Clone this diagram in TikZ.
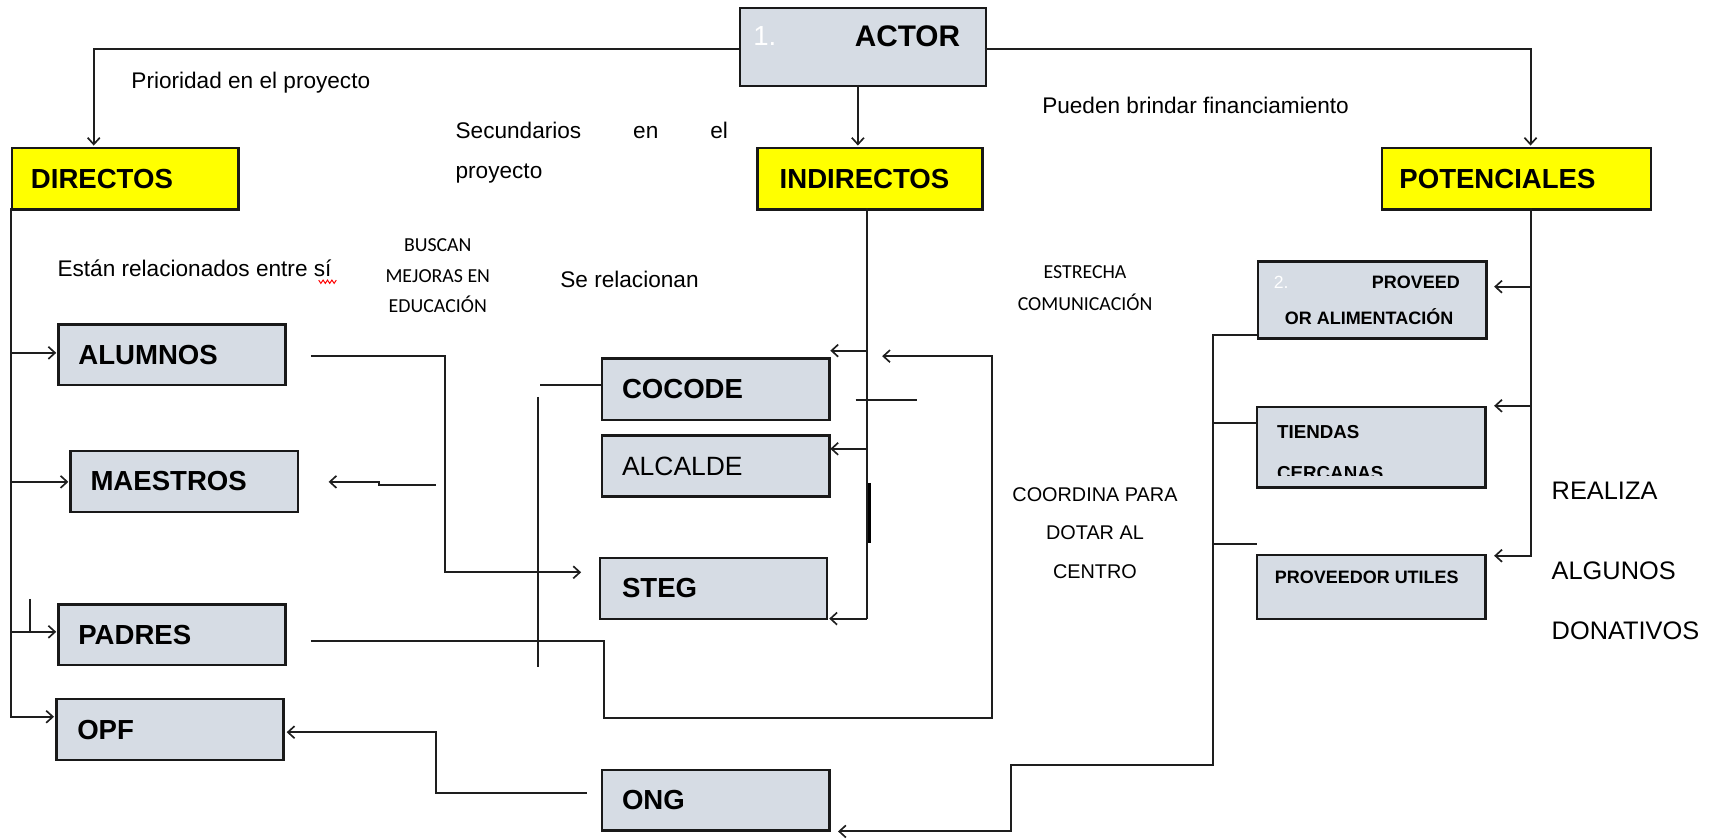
\documentclass[tikz,border=0pt]{standalone}
\usepackage{fontspec}
\setmainfont{Liberation Sans}
\newfontfamily\calib{Carlito}
\usetikzlibrary{arrows.meta}
\definecolor{boxgray}{HTML}{D6DCE4}
\definecolor{ylw}{HTML}{FFFF00}
\definecolor{ln}{HTML}{1E1E1E}
\begin{document}
\begin{tikzpicture}[x=1pt,y=-1pt,
  conn/.style={draw=ln, line width=1.8pt},
  arr/.style={conn, -{Straight Barb[length=6pt,width=11pt,line width=1.5pt]}},
  box/.style={draw=black!90, line width=2.2pt, fill=boxgray, anchor=north west,
    minimum height=55pt, inner ysep=0pt, inner xsep=18pt, text width=170pt, align=left,
    font=\bfseries\fontsize{25}{30}\selectfont},
  ybox/.style={box, fill=ylw, minimum height=56pt},
  sbox/.style={draw=black!90, line width=2.2pt, fill=boxgray, anchor=north west,
    minimum width=207pt, inner sep=0pt},
  txt/.style={anchor=west, inner sep=0pt, font=\fontsize{20.5}{24}\selectfont},
  small/.style={anchor=west, inner sep=0pt, font=\bfseries\fontsize{16.3}{20}\selectfont},
  cal/.style={inner sep=0pt, align=center, font=\calib\fontsize{18}{28}\selectfont},
  big/.style={anchor=west, inner sep=0pt, font=\fontsize{23}{28}\selectfont}
]
\useasboundingbox (0,0) rectangle (1568,760);

% ---------- boxes ----------
\node[box, minimum width=223pt, minimum height=71pt, text width=187pt] (actor) at (670,6) {};
\node[anchor=west, inner sep=0pt, text=white, font=\fontsize{25}{30}\selectfont] (actornum) at (683,33) {1.};
\node[anchor=west, inner sep=0pt, font=\bfseries\fontsize{27}{30}\selectfont] (actortxt) at (775,33) {ACTOR};

\node[ybox, inner xsep=17pt, text width=171pt] (directos) at (10,133) {DIRECTOS};
\node[ybox, inner xsep=20pt, text width=164pt] (indirectos) at (686,133) {INDIRECTOS};
\node[ybox, inner xsep=16pt, text width=212pt] (potenciales) at (1252,133) {POTENCIALES};

\node[box] (alumnos) at (52,293) {ALUMNOS};
\node[box] (maestros) at (63,408) {MAESTROS};
\node[box] (padres) at (52,547) {PADRES};
\node[box, inner xsep=19pt, text width=168pt] (opf) at (50,633) {OPF};

\node[box, minimum height=56pt] (cocode) at (545,324) {COCODE};
\node[box, font=\mdseries\fontsize{24}{30}\selectfont] (alcalde) at (545,394) {ALCALDE};
\node[box, inner xsep=20pt, text width=166pt] (steg) at (543,505) {STEG};
\node[box] (ong) at (545,697) {ONG};

\node[sbox, minimum height=70pt] (proveed) at (1140,236) {};
\node[anchor=west, inner sep=0pt, text=white, font=\fontsize{16}{20}\selectfont] (provnum) at (1155,256) {2.};
\node[small] (provt1) at (1244,256) {PROVEED};
\node[small] (provt2) at (1165,287) {OR ALIMENTACIÓN};

\node[sbox, minimum height=73pt] (tiendas) at (1139,368) {};
\begin{scope}
  \clip (1130,360) rectangle (1350,431);
  \node[anchor=north west, inner sep=0pt, align=left, font=\bfseries\fontsize{17}{37}\selectfont] (tiendast) at (1158,386) {TIENDAS\\CERCANAS};
\end{scope}

\node[sbox, minimum height=58pt] (putiles) at (1139,502) {};
\node[small] (putilest) at (1156,524) {PROVEEDOR UTILES};

% ---------- free texts ----------
\node[txt] (prior) at (119,75) {Prioridad en el proyecto};
\node[txt] (sec1) at (413,118) {\makebox[247pt][s]{Secundarios\hfill en\hfill el}};
\node[txt] (sec2) at (413,157) {proyecto};
\node[txt] (pueden) at (945,96) {Pueden brindar financiamiento};
\node[txt] (estan) at (52,243) {Están relacionados entre sí};
\draw[red, line width=0.9pt] (289,254) -- (291,257) -- (293,254) -- (295,257) -- (297,254)
  -- (299,257) -- (301,254) -- (303,257) -- (305,254);
\node[cal] (buscan) at (397,250) {BUSCAN\\MEJORAS EN\\EDUCACIÓN};
\node[txt] (serel) at (508,253) {Se relacionan};
\node[cal, font=\calib\fontsize{18}{29}\selectfont] (estrecha) at (984,261.5) {ESTRECHA\\COMUNICACIÓN};
\node[inner sep=0pt, align=center, font=\fontsize{18}{34.5}\selectfont] (coordina) at (993,483.5) {COORDINA PARA\\DOTAR AL\\CENTRO};
\node[big] (realiza) at (1407,445) {REALIZA};
\node[big] (algunos) at (1407,518) {ALGUNOS};
\node[big] (donativos) at (1407,572) {DONATIVOS};

% ---------- connectors ----------
\coordinate (aL) at (670,44);
\coordinate (aR) at (893,44);
\draw[arr] (aL) -| (85,132);
\draw[arr] (aR) -| (1388,132);
\draw[arr] (778,77) -- (778,132);

% directos trunk
\coordinate (dtop) at (10,189);
\coordinate (dbot) at (10,651);
\draw[conn] (dtop) -- (dbot);
\draw[arr] (10,320) -- (51,320);
\draw[arr] (10,437) -- (62,437);
\draw[arr] (10,573) -- (51,573);
\draw[conn] (27,543) -- (27,573);
\draw[arr] (10,650) -- (49,650);

% indirectos trunk
\draw[conn] (786,189) -- (786,561);
\draw[arr] (786,318) -- (753,318);
\draw[arr] (786,407) -- (753,407);
\draw[arr] (786,561) -- (752,561);
\draw[conn] (776,363) -- (832,363);
\draw[draw=black, line width=2.8pt] (788.5,438) -- (788.5,492);

% cocode side lines
\draw[conn] (490,349) -- (cocode.west |- 0,349);
\draw[conn] (488,360) -- (488,605);

% alumnos -> steg
\draw[arr] (282,323) -| (404,519) -- (527,519);
% maestros
\draw[arr] (395,440) -- (344,440) -- (344,437) -- (298,437);
% padres loop
\draw[arr] (282,581) -| (548,651) -| (900,323) -- (800,323);
% ong -> opf
\draw[arr] (532,719) -| (395,664) -- (260,664);

% potenciales trunk
\draw[conn] (1388,189) -- (1388,505);
\draw[arr] (1388,260) -- (1355,260);
\draw[arr] (1388,368) -- (1355,368);
\draw[arr] (1388,504) -- (1355,504);

% right chain to ong
\draw[arr] (1140,304) -| (1100,694) -| (917,754) -- (760,754);
\draw[conn] (1100,384) -- (1139,384);
\draw[conn] (1100,493) -- (1140,493);
\end{tikzpicture}
\end{document}
